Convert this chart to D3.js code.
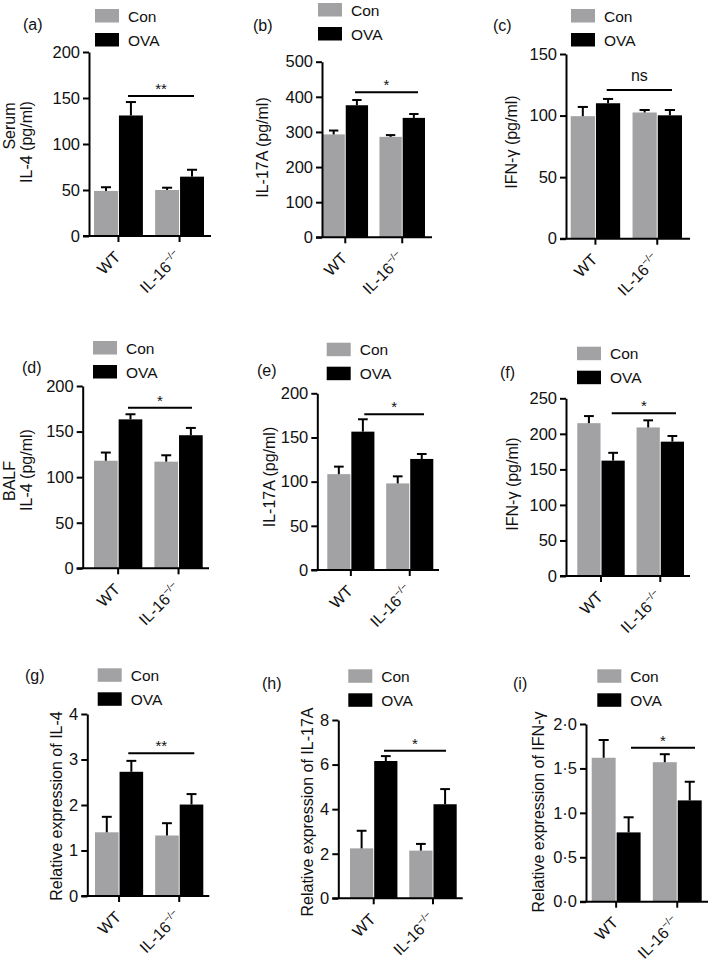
<!DOCTYPE html>
<html>
<head>
<meta charset="utf-8">
<script src="https://cdn.jsdelivr.net/npm/d3@7"></script>
<style>
  html, body { margin: 0; padding: 0; background: #fff; }
  svg { display: block; }
  text { font-family: "Liberation Sans", Arial, Helvetica, sans-serif; fill: #111; }
</style>
</head>
<body>
<div id="chart"></div>
<script>
// ---------------- DATA ----------------
const groups = ["WT", "IL-16"];
const groupSup = ["", "−/−"];
const seriesNames = ["Con", "OVA"];
const panelIds = ["(a)", "(b)", "(c)", "(d)", "(e)", "(f)", "(g)", "(h)", "(i)"];
const yTitles = [
  ["Serum", "IL-4 (pg/ml)"],
  ["IL-17A (pg/ml)"],
  ["IFN-γ  (pg/ml)"],
  ["BALF", "IL-4 (pg/ml)"],
  ["IL-17A (pg/ml)"],
  ["IFN-γ (pg/ml)"],
  ["Relative expression of IL-4"],
  ["Relative expression of IL-17A"],
  ["Relative expression of IFN-γ"]
];
const yTickValues = [
  [0, 50, 100, 150, 200],
  [0, 100, 200, 300, 400, 500],
  [0, 50, 100, 150],
  [0, 50, 100, 150, 200],
  [0, 50, 100, 150, 200],
  [0, 50, 100, 150, 200, 250],
  [0, 1, 2, 3, 4],
  [0, 2, 4, 6, 8],
  [0, 0.5, 1, 1.5, 2]
];
const yTickLabels = [
  ["0", "50", "100", "150", "200"],
  ["0", "100", "200", "300", "400", "500"],
  ["0", "50", "100", "150"],
  ["0", "50", "100", "150", "200"],
  ["0", "50", "100", "150", "200"],
  ["0", "50", "100", "150", "200", "250"],
  ["0", "1", "2", "3", "4"],
  ["0", "2", "4", "6", "8"],
  ["0·0", "0·5", "1·0", "1·5", "2·0"]
];
// means [WT, IL-16-/-] and upper error (SEM)
const conMean = [[49, 50], [293, 286], [99.5, 102.5], [118, 117], [108.5, 98], [215, 209], [1.40, 1.33], [2.24, 2.14], [1.62, 1.57]];
const conErr  = [[4, 2.5], [11, 5], [7.5, 2], [9, 7], [8.5, 8], [10, 10], [0.34, 0.27], [0.79, 0.30], [0.20, 0.09]];
const ovaMean = [[131, 64.5], [376, 340], [110, 100.2], [163.4, 146], [156.6, 125.7], [162.3, 189], [2.73, 2.01], [6.16, 4.22], [0.78, 1.14]];
const ovaErr  = [[14.6, 7.5], [15, 11], [3.5, 4.3], [5.6, 8], [14, 5.6], [11, 8], [0.24, 0.23], [0.22, 0.68], [0.17, 0.21]];
const sigLabels = ["**", "*", "ns", "*", "*", "*", "**", "*", "*"];

// ---------------- LAYOUT ----------------
const layout = [
  {ax: 89,    end: 211,   top: 52,    zero: 236,   bl: 94,    br: 204,   s1: 128,   s2: 194,   sy: 96,    lx: 95,    ly: 9,     px: 23,  py: 24.5, tx: [9, 26],  ty: [126, 142]},
  {ax: 322,   end: 432,   top: 61.7,  zero: 237.3, bl: 322.5, br: 425,   s1: 355,   s2: 418,   sy: 92.3,  lx: 318,   ly: 3,     px: 253, py: 25,   tx: [262],    ty: [147.5]},
  {ax: 566,   end: 690,   top: 54,    zero: 238.7, bl: 570.7, br: 682,   s1: 606.7, s2: 672,   sy: 90,    lx: 571,   ly: 9,     px: 493, py: 25,   tx: [511],    ty: [142]},
  {ax: 82.7,  end: 209,   top: 386,   zero: 568.3, bl: 94,    br: 202.7, s1: 128,   s2: 192,   sy: 407.7, lx: 93,    ly: 341,   px: 22,  py: 367,  tx: [9, 26],  ty: [481, 470]},
  {ax: 317.3, end: 439,   top: 393.3, zero: 570,   bl: 327.3, br: 433.3, s1: 364.3, s2: 424,   sy: 414.3, lx: 326.7, ly: 342.7, px: 257, py: 370,  tx: [269],    ty: [477]},
  {ax: 566,   end: 690,   top: 398.3, zero: 576,   bl: 577.3, br: 684,   s1: 611.7, s2: 676,   sy: 413.3, lx: 577,   ly: 346.7, px: 500, py: 372,  tx: [512],    ty: [484]},
  {ax: 87.3,  end: 209.3, top: 714,   zero: 896,   bl: 95,    br: 203.3, s1: 128.3, s2: 194.3, sy: 753.3, lx: 97.7,  ly: 668.3, px: 25,  py: 675,  tx: [56],     ty: [806]},
  {ax: 338.3, end: 462.7, top: 720,   zero: 898.3, bl: 350,   br: 456.7, s1: 384,   s2: 446,   sy: 750.7, lx: 348.3, ly: 669.3, px: 262, py: 683,  tx: [307],    ty: [812]},
  {ax: 586,   end: 708,   top: 724,   zero: 901.7, bl: 591.7, br: 701.7, s1: 631,   s2: 695,   sy: 747.7, lx: 597.3, ly: 669.3, px: 513, py: 683,  tx: [538],    ty: [812]}
];

const W = 709, H = 964;
const GRAY = "#a2a2a5", BLACK = "#000";
const FS_TICK = 16.5, FS_TITLE = 16, FS_LEG = 15.5;
const colors = d3.scaleOrdinal().domain(seriesNames).range([GRAY, BLACK]);

const svg = d3.select("#chart").append("svg").attr("width", W).attr("height", H);

layout.forEach((L, i) => {
  const g = svg.append("g");
  const yMax = yTickValues[i][yTickValues[i].length - 1];
  const y = d3.scaleLinear().domain([0, yMax]).range([L.zero, L.top]);
  const x0 = d3.scaleBand().domain(groups).range([L.bl, L.br]).paddingInner(0.2).paddingOuter(0);
  const x1 = d3.scaleBand().domain(seriesNames).range([0, x0.bandwidth()]).paddingInner(0.04);

  const rows = [];
  groups.forEach((grp, gi) => {
    rows.push({grp, s: "Con", v: conMean[i][gi], e: conErr[i][gi]});
    rows.push({grp, s: "OVA", v: ovaMean[i][gi], e: ovaErr[i][gi]});
  });

  // bars
  g.selectAll("rect.bar").data(rows).join("rect")
    .attr("class", "bar")
    .attr("x", d => x0(d.grp) + x1(d.s))
    .attr("width", x1.bandwidth())
    .attr("y", d => y(d.v))
    .attr("height", d => y(0) - y(d.v))
    .attr("fill", d => colors(d.s));

  // error bars (upper only)
  const capW = x1.bandwidth() * 0.42;
  const cxOf = d => x0(d.grp) + x1(d.s) + x1.bandwidth() / 2;
  const eb = g.selectAll("g.err").data(rows).join("g").attr("class", "err");
  eb.append("line")
    .attr("x1", cxOf).attr("x2", cxOf)
    .attr("y1", d => y(d.v))
    .attr("y2", d => y(d.v + d.e))
    .attr("stroke", "#000").attr("stroke-width", 2);
  eb.append("line")
    .attr("x1", d => cxOf(d) - capW / 2)
    .attr("x2", d => cxOf(d) + capW / 2)
    .attr("y1", d => y(d.v + d.e))
    .attr("y2", d => y(d.v + d.e))
    .attr("stroke", "#000").attr("stroke-width", 2);

  // y axis
  const yAxis = d3.axisLeft(y).tickValues(yTickValues[i])
    .tickFormat((d, k) => yTickLabels[i][k]).tickSize(6).tickSizeOuter(0).tickPadding(3);
  const ya = g.append("g").attr("transform", `translate(${L.ax},0)`).call(yAxis);
  ya.attr("font-size", null).attr("font-family", null);
  ya.select(".domain").attr("stroke-width", 2);
  ya.selectAll(".tick line").attr("stroke-width", 2);
  ya.selectAll(".tick text").style("font-size", FS_TICK + "px").attr("fill", "#111");

  // x axis
  g.append("line").attr("x1", L.ax - 6).attr("x2", L.end).attr("y1", L.zero).attr("y2", L.zero)
    .attr("stroke", "#000").attr("stroke-width", 2);
  const xAxis = d3.axisBottom(x0).tickSize(6).tickSizeOuter(0).tickFormat("");
  const xa = g.append("g").attr("transform", `translate(0,${L.zero})`).call(xAxis);
  xa.select(".domain").remove();
  xa.selectAll(".tick line").attr("stroke-width", 2);

  // x labels
  groups.forEach((grp, gi) => {
    const cx = x0(grp) + x0.bandwidth() / 2;
    const t = g.append("text")
      .attr("transform", `translate(${cx + 3},${L.zero + 22}) rotate(-45)`)
      .attr("text-anchor", "end")
      .style("font-size", FS_TITLE + "px");
    t.append("tspan").text(grp);
    if (groupSup[gi]) {
      t.append("tspan").style("font-size", "10px").attr("dy", -7).text(groupSup[gi]);
    }
  });

  // y title
  yTitles[i].forEach((tt, k) => {
    g.append("text")
      .attr("transform", `translate(${L.tx[k]},${L.ty[k]}) rotate(-90)`)
      .attr("text-anchor", "middle")
      .attr("dy", "0.35em")
      .style("font-size", FS_TITLE + "px")
      .text(tt);
  });

  // panel letter
  g.append("text").attr("x", L.px).attr("y", L.py).attr("dy", "0.35em")
    .style("font-size", FS_TITLE + "px").text(panelIds[i]);

  // legend
  seriesNames.forEach((s, k) => {
    const yy = L.ly + k * 24;
    g.append("rect").attr("x", L.lx).attr("y", yy).attr("width", 24).attr("height", 13.5).attr("fill", colors(s));
    g.append("text").attr("x", L.lx + 33).attr("y", yy + 7).attr("dy", "0.36em")
      .style("font-size", FS_LEG + "px").text(s);
  });

  // significance
  g.append("line").attr("x1", L.s1).attr("x2", L.s2).attr("y1", L.sy).attr("y2", L.sy)
    .attr("stroke", "#000").attr("stroke-width", 2);
  const isNs = sigLabels[i] === "ns";
  g.append("text").attr("x", (L.s1 + L.s2) / 2).attr("y", L.sy - (isNs ? 9 : 2))
    .attr("text-anchor", "middle").style("font-size", (isNs ? FS_TITLE : 15) + "px").text(sigLabels[i]);
});
</script>
</body>
</html>
